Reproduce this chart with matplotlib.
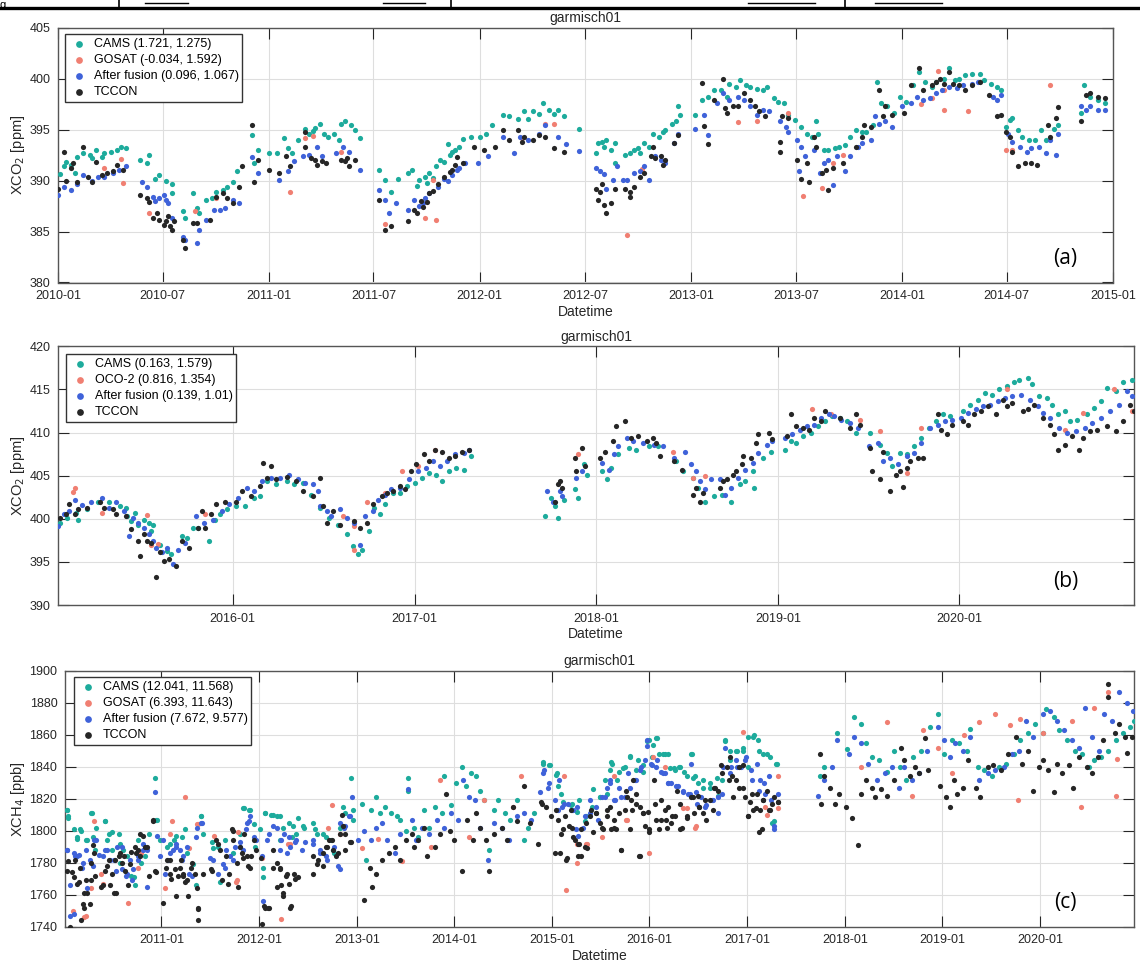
import numpy as np
import matplotlib as mpl
mpl.use('Agg')
import matplotlib.pyplot as plt
import matplotlib.dates as mdates
from matplotlib.lines import Line2D
from datetime import datetime, timedelta

mpl.rcParams['font.family'] = ['Liberation Sans', 'DejaVu Sans']

# ---------- data: (decimal year, value) ----------
# (a) XCO2 2010-2014, GOSAT
a_cams = [(2010.01, 390.6), (2010.03, 391.4), (2010.04, 391.8), (2010.06, 391.5), (2010.08, 390.7), (2010.09, 392.3),
          (2010.12, 392.7), (2010.15, 392.5), (2010.16, 392.2), (2010.18, 393.0), (2010.21, 392.3), (2010.22, 392.7),
          (2010.25, 392.8), (2010.28, 393.0), (2010.30, 393.3), (2010.32, 393.2),
          (2010.39, 392.0), (2010.42, 391.7), (2010.43, 392.5), (2010.46, 390.2), (2010.48, 390.5), (2010.51, 390.0),
          (2010.54, 389.7), (2010.54, 388.8), (2010.59, 387.0), (2010.60, 386.3), (2010.64, 388.8), (2010.66, 387.3),
          (2010.67, 386.8), (2010.70, 388.1), (2010.73, 388.3), (2010.75, 388.9), (2010.78, 389.1), (2010.80, 389.4),
          (2010.83, 389.9), (2010.85, 390.9),
          (2010.92, 394.5), (2010.93, 391.7), (2010.95, 393.0), (2011.00, 392.7), (2011.04, 392.7), (2011.07, 394.2),
          (2011.09, 393.2), (2011.11, 392.7), (2011.14, 394.0), (2011.17, 395.1), (2011.19, 394.6), (2011.21, 394.9),
          (2011.22, 395.2), (2011.24, 395.6), (2011.26, 394.6), (2011.28, 394.3), (2011.31, 394.6), (2011.33, 394.0),
          (2011.34, 395.6), (2011.36, 395.8), (2011.39, 395.5), (2011.41, 395.0), (2011.43, 394.2),
          (2011.52, 391.0), (2011.55, 390.1), (2011.58, 388.9), (2011.61, 390.2), (2011.66, 390.7), (2011.68, 391.0),
          (2011.70, 389.5), (2011.71, 390.1), (2011.74, 390.4), (2011.75, 389.8), (2011.76, 390.7), (2011.78, 390.3),
          (2011.79, 391.4), (2011.81, 392.0), (2011.83, 391.8), (2011.85, 393.6), (2011.86, 392.5), (2011.87, 392.8),
          (2011.88, 393.0), (2011.90, 393.3), (2011.92, 394.1), (2011.96, 394.3), (2012.00, 394.3), (2012.03, 394.6),
          (2012.06, 395.5), (2012.11, 396.4), (2012.14, 396.3), (2012.18, 396.0), (2012.21, 396.8), (2012.23, 396.0),
          (2012.25, 396.8), (2012.28, 396.5), (2012.30, 397.6), (2012.33, 396.9), (2012.35, 396.5), (2012.37, 396.9),
          (2012.40, 396.3), (2012.47, 395.1),
          (2012.55, 392.7), (2012.56, 393.7), (2012.58, 393.8), (2012.59, 393.3), (2012.60, 394.0), (2012.62, 393.0),
          (2012.64, 393.7), (2012.64, 391.7), (2012.69, 392.5), (2012.71, 392.7), (2012.73, 393.0), (2012.75, 393.2),
          (2012.76, 392.7), (2012.78, 393.7), (2012.80, 393.3), (2012.82, 394.6), (2012.85, 394.3), (2012.87, 394.8),
          (2012.88, 395.0), (2012.91, 395.6), (2012.93, 395.8), (2012.94, 397.3), (2012.95, 396.4),
          (2013.02, 396.4), (2013.05, 397.9), (2013.08, 398.2), (2013.11, 398.9), (2013.14, 398.9), (2013.17, 398.2),
          (2013.18, 399.5), (2013.21, 399.2), (2013.23, 399.9), (2013.26, 399.4), (2013.28, 399.2), (2013.31, 399.0),
          (2013.34, 398.9), (2013.36, 399.2), (2013.39, 398.1), (2013.41, 397.7), (2013.44, 397.6),
          (2013.46, 396.4), (2013.49, 395.9), (2013.52, 395.3), (2013.55, 394.6), (2013.57, 394.3), (2013.59, 395.8),
          (2013.60, 394.6), (2013.63, 393.0), (2013.65, 393.0), (2013.68, 393.2), (2013.70, 393.3), (2013.73, 393.5),
          (2013.75, 394.3), (2013.78, 395.0), (2013.81, 394.8), (2013.83, 394.8), (2013.86, 395.5), (2013.88, 399.7),
          (2013.90, 397.6), (2013.93, 397.3), (2013.96, 396.6),
          (2013.99, 398.2), (2014.02, 397.7), (2014.05, 399.4), (2014.08, 400.7), (2014.11, 399.7), (2014.14, 399.2),
          (2014.16, 399.7), (2014.20, 400.0), (2014.22, 401.0), (2014.25, 399.9), (2014.27, 400.0), (2014.30, 400.4),
          (2014.33, 400.5), (2014.37, 400.5), (2014.39, 399.9), (2014.42, 399.5), (2014.45, 399.2), (2014.47, 398.9),
          (2014.49, 395.3), (2014.51, 395.9), (2014.52, 396.1), (2014.55, 395.0), (2014.57, 394.3), (2014.60, 394.0),
          (2014.63, 394.0), (2014.66, 395.0), (2014.68, 394.0), (2014.72, 395.1), (2014.74, 395.5),
          (2014.85, 396.6), (2014.86, 399.4), (2014.89, 398.2), (2014.93, 397.9), (2014.96, 397.6)]
a_sat = [(2010.22, 391.2), (2010.30, 392.1), (2010.31, 389.8), (2010.43, 386.8), (2010.65, 387.0), (2010.75, 388.3),
         (2011.10, 388.9), (2011.17, 394.2), (2011.21, 394.4), (2011.34, 392.8), (2011.55, 385.7), (2011.74, 386.3),
         (2011.78, 390.1), (2011.79, 386.1), (2012.20, 394.2), (2012.31, 395.6), (2012.35, 395.6), (2012.70, 384.7),
         (2012.77, 391.1), (2013.22, 395.7), (2013.31, 395.8), (2013.46, 396.6), (2013.53, 388.5), (2013.62, 389.3),
         (2013.67, 391.7), (2013.72, 392.5), (2014.09, 397.5), (2014.14, 398.1), (2014.17, 400.8), (2014.20, 396.9),
         (2014.20, 398.9), (2014.31, 396.8), (2014.49, 393.0), (2014.52, 393.0), (2014.70, 399.4)]
a_fusion = [(2010.00, 388.6), (2010.03, 389.4), (2010.06, 389.1), (2010.09, 389.7), (2010.12, 390.5), (2010.16, 390.0),
            (2010.19, 390.4), (2010.22, 390.4), (2010.26, 390.7), (2010.29, 391.0), (2010.32, 391.4),
            (2010.40, 389.9), (2010.42, 389.4), (2010.45, 388.4), (2010.46, 388.0), (2010.48, 388.3), (2010.50, 388.6),
            (2010.51, 388.1), (2010.52, 387.8), (2010.54, 386.3), (2010.59, 384.5), (2010.60, 384.2), (2010.66, 383.9),
            (2010.67, 385.2), (2010.70, 386.1), (2010.74, 387.1), (2010.77, 387.1), (2010.79, 387.3), (2010.83, 388.1),
            (2010.86, 387.8),
            (2010.92, 392.3), (2010.95, 390.7), (2011.05, 390.1), (2011.09, 390.9), (2011.12, 391.9), (2011.16, 392.4),
            (2011.19, 392.5), (2011.23, 393.3), (2011.25, 392.4), (2011.32, 392.7), (2011.35, 393.3), (2011.38, 392.8),
            (2011.43, 391.0),
            (2011.52, 389.1), (2011.55, 388.1), (2011.57, 386.8), (2011.60, 387.8), (2011.66, 387.1), (2011.69, 388.1),
            (2011.71, 387.5), (2011.73, 387.8), (2011.74, 388.3), (2011.76, 388.8), (2011.80, 389.4), (2011.83, 390.2),
            (2011.85, 390.0), (2011.87, 390.5), (2011.89, 391.0), (2011.90, 391.2), (2011.93, 391.7), (2011.99, 391.7),
            (2012.04, 392.4), (2012.11, 394.3), (2012.16, 392.7), (2012.19, 394.3), (2012.23, 394.0), (2012.28, 394.6),
            (2012.31, 395.5), (2012.37, 394.3), (2012.41, 393.6), (2012.47, 392.9),
            (2012.55, 391.2), (2012.57, 390.9), (2012.59, 390.6), (2012.60, 389.2), (2012.63, 390.1), (2012.65, 391.4),
            (2012.68, 390.1), (2012.70, 390.1), (2012.73, 390.7), (2012.76, 390.9), (2012.78, 391.4), (2012.80, 390.1),
            (2012.83, 392.4), (2012.86, 392.0), (2012.88, 391.7), (2012.92, 393.7), (2012.94, 394.6),
            (2013.02, 395.1), (2013.06, 396.4), (2013.08, 394.5), (2013.12, 397.6), (2013.15, 398.6), (2013.18, 397.9),
            (2013.22, 398.2), (2013.25, 397.9), (2013.28, 397.3), (2013.31, 396.4), (2013.34, 396.9), (2013.37, 396.8),
            (2013.42, 395.8), (2013.45, 395.3),
            (2013.46, 394.8), (2013.50, 394.0), (2013.51, 390.9), (2013.52, 393.3), (2013.54, 392.4), (2013.58, 393.0),
            (2013.61, 390.7), (2013.63, 391.7), (2013.65, 392.0), (2013.67, 389.6), (2013.69, 392.4), (2013.73, 390.9),
            (2013.75, 392.4), (2013.79, 393.3), (2013.81, 393.7), (2013.85, 394.0), (2013.87, 396.3), (2013.89, 395.6),
            (2013.92, 395.8), (2013.95, 395.3),
            (2014.00, 397.3), (2014.04, 397.6), (2014.07, 398.2), (2014.10, 397.9), (2014.13, 398.1), (2014.16, 398.6),
            (2014.19, 398.9), (2014.22, 399.2), (2014.26, 399.1), (2014.29, 399.4), (2014.33, 399.5), (2014.36, 399.7),
            (2014.43, 398.2), (2014.45, 397.9), (2014.47, 398.4),
            (2014.50, 394.6), (2014.52, 393.8), (2014.56, 393.3), (2014.59, 392.8), (2014.61, 393.2), (2014.65, 393.3),
            (2014.68, 392.7), (2014.70, 394.0), (2014.73, 392.5), (2014.74, 394.6),
            (2014.85, 397.3), (2014.87, 396.9), (2014.89, 397.3), (2014.93, 396.9), (2014.96, 396.9)]
a_tccon = [(2010.00, 389.2), (2010.03, 392.8), (2010.04, 390.0), (2010.06, 391.2), (2010.07, 391.7), (2010.09, 389.9),
           (2010.12, 393.3), (2010.14, 390.4), (2010.16, 389.9), (2010.18, 391.8), (2010.21, 390.5), (2010.23, 390.7),
           (2010.26, 390.9), (2010.28, 391.5), (2010.31, 391.0),
           (2010.39, 388.6), (2010.42, 388.3), (2010.43, 387.9), (2010.45, 386.3), (2010.47, 386.8), (2010.48, 386.1),
           (2010.50, 385.6), (2010.51, 386.0), (2010.52, 386.5), (2010.53, 385.5), (2010.54, 385.2), (2010.55, 386.0),
           (2010.59, 384.2), (2010.60, 383.4), (2010.64, 385.8), (2010.66, 385.8), (2010.72, 386.1), (2010.75, 388.4),
           (2010.78, 388.8), (2010.80, 388.3), (2010.83, 387.8), (2010.86, 389.4), (2010.87, 391.4),
           (2010.92, 395.5), (2010.93, 389.9), (2010.95, 392.0), (2011.00, 391.0), (2011.05, 390.7), (2011.08, 392.4),
           (2011.10, 391.4), (2011.17, 394.8), (2011.17, 393.3), (2011.20, 392.2), (2011.22, 392.0), (2011.23, 391.5),
           (2011.25, 391.9), (2011.27, 391.7), (2011.34, 392.0), (2011.36, 391.9), (2011.37, 392.2), (2011.38, 391.4),
           (2011.41, 392.0),
           (2011.52, 388.1), (2011.55, 385.2), (2011.58, 385.5), (2011.66, 386.0), (2011.69, 387.1), (2011.70, 386.8),
           (2011.72, 388.0), (2011.73, 387.4), (2011.75, 387.9), (2011.76, 388.8), (2011.78, 389.0), (2011.80, 389.7),
           (2011.83, 390.4), (2011.86, 390.8), (2011.87, 391.0), (2011.88, 391.5), (2011.89, 392.3), (2011.92, 391.7),
           (2011.97, 393.3), (2012.02, 393.0), (2012.07, 393.3), (2012.11, 395.0), (2012.14, 394.0), (2012.18, 395.0),
           (2012.20, 393.8), (2012.21, 394.3), (2012.25, 394.0), (2012.28, 394.5), (2012.31, 394.3), (2012.35, 393.2),
           (2012.40, 392.8),
           (2012.55, 389.2), (2012.56, 388.1), (2012.57, 388.9), (2012.58, 389.7), (2012.59, 387.6), (2012.60, 386.8),
           (2012.62, 387.8), (2012.64, 389.2), (2012.69, 389.2), (2012.71, 388.4), (2012.71, 388.9), (2012.73, 389.4),
           (2012.76, 390.4), (2012.78, 390.7), (2012.81, 392.4), (2012.82, 393.3), (2012.83, 392.2), (2012.86, 392.4),
           (2012.87, 391.5), (2012.88, 392.0), (2012.92, 393.7), (2012.94, 394.5),
           (2013.05, 399.6), (2013.06, 395.4), (2013.08, 393.6), (2013.11, 397.9), (2013.15, 400.0), (2013.16, 397.1),
           (2013.17, 396.6), (2013.20, 397.3), (2013.22, 397.3), (2013.25, 398.6), (2013.28, 397.9), (2013.30, 397.3),
           (2013.32, 396.8), (2013.35, 396.3), (2013.42, 392.8), (2013.42, 393.8), (2013.43, 396.3),
           (2013.46, 396.1), (2013.50, 392.0), (2013.52, 390.2), (2013.55, 391.7), (2013.56, 389.9), (2013.58, 394.3),
           (2013.59, 393.3), (2013.62, 390.7), (2013.64, 391.0), (2013.65, 389.1), (2013.67, 391.2), (2013.72, 391.7),
           (2013.78, 393.3), (2013.81, 394.3), (2013.82, 395.5), (2013.85, 395.3), (2013.89, 398.9), (2013.91, 396.3),
           (2013.92, 397.3), (2013.95, 396.4),
           (2014.01, 396.6), (2014.04, 399.4), (2014.08, 401.0), (2014.10, 398.9), (2014.14, 399.4), (2014.16, 399.7),
           (2014.18, 400.0), (2014.20, 399.5), (2014.22, 400.7), (2014.24, 399.5), (2014.27, 399.4), (2014.30, 398.9),
           (2014.33, 399.4), (2014.37, 399.7), (2014.41, 398.4), (2014.45, 396.3), (2014.47, 396.4),
           (2014.49, 394.8), (2014.51, 394.3), (2014.52, 392.8), (2014.55, 391.4), (2014.58, 391.7), (2014.61, 391.7),
           (2014.64, 391.5), (2014.69, 395.5), (2014.70, 394.3), (2014.73, 396.1), (2014.74, 397.2),
           (2014.85, 395.8), (2014.87, 398.4), (2014.89, 398.6), (2014.93, 398.2), (2014.96, 398.1)]

# (b) XCO2 2015-2020, OCO-2
b_cams = [(2015.05, 399.5), (2015.09, 400.1), (2015.14, 400.7), (2015.15, 399.9), (2015.20, 401.1), (2015.26, 401.9),
          (2015.32, 401.9), (2015.38, 401.5), (2015.41, 401.3), (2015.42, 400.3), (2015.44, 399.7), (2015.46, 400.7),
          (2015.48, 399.3), (2015.51, 399.9), (2015.54, 399.5), (2015.55, 398.6), (2015.56, 399.3), (2015.60, 397.0),
          (2015.64, 396.3), (2015.66, 395.9), (2015.72, 398.0), (2015.75, 397.8), (2015.78, 398.9), (2015.81, 398.9),
          (2015.87, 397.4), (2015.90, 399.9), (2015.93, 400.5), (2015.97, 401.1),
          (2016.02, 401.5), (2016.07, 401.5), (2016.12, 402.4), (2016.15, 402.6), (2016.19, 404.4), (2016.24, 404.0),
          (2016.30, 404.4), (2016.34, 404.0), (2016.39, 404.2), (2016.43, 402.8), (2016.48, 401.3), (2016.53, 400.1),
          (2016.58, 399.3), (2016.63, 398.2), (2016.66, 396.8), (2016.69, 395.9), (2016.71, 396.4), (2016.75, 398.6),
          (2016.78, 401.3), (2016.81, 400.5), (2016.84, 401.7), (2016.88, 403.0), (2016.92, 403.0), (2016.96, 403.8),
          (2017.00, 404.2), (2017.04, 404.7), (2017.08, 405.3), (2017.12, 405.1), (2017.15, 404.4), (2017.19, 405.5),
          (2017.23, 405.9), (2017.27, 405.7), (2017.31, 407.3),
          (2017.72, 400.3), (2017.75, 402.4), (2017.77, 401.5), (2017.79, 400.1), (2017.82, 402.2), (2017.88, 403.4),
          (2017.90, 402.4), (2017.93, 406.3), (2017.95, 405.1), (2018.03, 405.5), (2018.06, 404.6), (2018.08, 405.9),
          (2018.12, 407.5), (2018.18, 408.2), (2018.22, 408.0), (2018.29, 408.4), (2018.34, 408.4),
          (2018.44, 406.7), (2018.48, 405.5), (2018.53, 404.7), (2018.56, 403.6), (2018.60, 402.0), (2018.65, 402.6),
          (2018.69, 402.8), (2018.74, 401.9), (2018.79, 404.0), (2018.82, 404.4), (2018.86, 405.5), (2018.87, 403.6),
          (2018.92, 407.1), (2018.96, 407.8),
          (2019.04, 408.0), (2019.07, 409.0), (2019.10, 408.8), (2019.14, 409.6), (2019.18, 410.0), (2019.22, 410.7),
          (2019.26, 411.3), (2019.30, 411.9), (2019.34, 411.7), (2019.38, 411.3), (2019.43, 410.0),
          (2019.51, 410.0), (2019.56, 408.6), (2019.60, 407.6), (2019.63, 406.1), (2019.67, 407.6), (2019.71, 407.5),
          (2019.75, 408.4), (2019.79, 409.4), (2019.83, 410.5), (2019.87, 411.3), (2019.91, 412.1), (2019.95, 411.9),
          (2020.02, 412.5), (2020.06, 413.2), (2020.10, 413.8), (2020.14, 414.6), (2020.18, 414.4), (2020.22, 415.0),
          (2020.26, 415.4), (2020.30, 415.9), (2020.33, 416.1), (2020.38, 416.3), (2020.40, 415.6), (2020.44, 414.2),
          (2020.48, 414.0), (2020.51, 413.2), (2020.54, 412.1), (2020.58, 412.5), (2020.61, 411.3), (2020.65, 411.5),
          (2020.70, 412.1), (2020.74, 412.9), (2020.78, 413.6), (2020.81, 415.2), (2020.86, 414.8), (2020.90, 415.9),
          (2020.95, 416.1)]
b_sat = [(2015.12, 403.1), (2015.13, 403.6), (2015.28, 400.7), (2015.53, 400.4), (2015.55, 396.9), (2015.59, 397.1),
         (2015.85, 400.5), (2016.61, 400.3), (2016.67, 399.2), (2016.67, 396.4), (2016.74, 401.9), (2016.84, 403.0),
         (2016.93, 405.5), (2017.02, 406.1), (2017.11, 408.0), (2017.90, 407.5), (2018.42, 407.7), (2018.53, 404.7),
         (2018.60, 405.0), (2019.19, 412.7), (2019.29, 412.2), (2019.45, 411.4), (2019.56, 410.2), (2019.71, 405.3),
         (2019.79, 410.5), (2020.26, 415.0), (2020.58, 410.3), (2020.68, 412.3), (2020.85, 415.0), (2020.95, 412.5)]
b_fusion = [(2015.04, 399.2), (2015.07, 400.5), (2015.10, 400.9), (2015.13, 402.2), (2015.17, 401.6), (2015.22, 402.0),
            (2015.28, 402.4), (2015.32, 401.3), (2015.36, 402.0), (2015.40, 400.9), (2015.43, 398.0), (2015.45, 400.1),
            (2015.48, 399.5), (2015.51, 398.9), (2015.54, 398.2), (2015.56, 397.4), (2015.58, 396.6), (2015.61, 396.1),
            (2015.64, 396.6), (2015.67, 394.8), (2015.70, 396.4), (2015.74, 397.2), (2015.80, 400.3), (2015.84, 399.5),
            (2015.89, 399.9), (2015.94, 400.9), (2015.98, 401.7),
            (2016.03, 402.4), (2016.08, 403.6), (2016.12, 403.2), (2016.16, 404.4), (2016.21, 404.7), (2016.26, 404.7),
            (2016.31, 405.1), (2016.36, 404.6), (2016.40, 404.2), (2016.44, 404.0), (2016.47, 403.2), (2016.48, 401.5),
            (2016.52, 400.9), (2016.54, 400.3), (2016.59, 401.1), (2016.63, 400.1), (2016.67, 399.5), (2016.70, 397.0),
            (2016.73, 400.3), (2016.77, 400.9), (2016.80, 402.2), (2016.84, 402.8), (2016.87, 403.4), (2016.92, 403.6),
            (2016.97, 404.6), (2017.02, 405.5), (2017.06, 405.9), (2017.10, 406.7), (2017.14, 406.1), (2017.18, 406.7),
            (2017.22, 407.5), (2017.27, 407.6), (2017.30, 408.0),
            (2017.73, 403.2), (2017.76, 402.0), (2017.80, 403.2), (2017.81, 402.6), (2017.89, 404.7), (2017.92, 405.5),
            (2018.03, 406.5), (2018.07, 405.7), (2018.10, 407.5), (2018.12, 408.4), (2018.17, 409.4), (2018.20, 409.0),
            (2018.26, 408.8), (2018.32, 408.6), (2018.37, 408.4),
            (2018.43, 407.1), (2018.49, 407.8), (2018.52, 406.3), (2018.55, 405.5), (2018.57, 404.4), (2018.60, 403.4),
            (2018.63, 404.6), (2018.68, 404.6), (2018.71, 402.8), (2018.74, 403.6), (2018.78, 404.7), (2018.82, 405.7),
            (2018.86, 406.5), (2018.89, 407.6), (2018.94, 408.6), (2018.97, 409.0),
            (2019.04, 409.4), (2019.08, 409.8), (2019.12, 410.3), (2019.16, 410.7), (2019.20, 410.9), (2019.24, 411.7),
            (2019.28, 412.1), (2019.31, 411.9), (2019.35, 411.5), (2019.40, 411.1), (2019.44, 410.5),
            (2019.50, 408.4), (2019.55, 408.8), (2019.58, 406.7), (2019.62, 407.1), (2019.66, 406.3), (2019.71, 407.3),
            (2019.75, 407.6), (2019.79, 408.8), (2019.84, 410.5), (2019.88, 410.9), (2019.92, 411.3), (2019.96, 411.5),
            (2020.01, 411.7), (2020.05, 412.3), (2020.09, 412.7), (2020.13, 413.1), (2020.17, 413.2), (2020.21, 413.6),
            (2020.25, 414.0), (2020.29, 414.2), (2020.34, 414.4), (2020.39, 413.8), (2020.43, 413.1), (2020.46, 412.3),
            (2020.50, 411.7), (2020.55, 410.5), (2020.59, 410.0), (2020.64, 410.2), (2020.69, 410.5), (2020.73, 411.1),
            (2020.78, 411.7), (2020.83, 412.5), (2020.88, 413.2), (2020.92, 414.8), (2020.95, 414.2)]
b_tccon = [(2015.05, 400.1), (2015.08, 400.5), (2015.10, 401.7), (2015.13, 400.5), (2015.15, 401.1), (2015.20, 401.3),
           (2015.27, 402.0), (2015.29, 401.3), (2015.34, 401.1), (2015.36, 400.5), (2015.41, 400.3), (2015.44, 398.8),
           (2015.48, 397.4), (2015.49, 395.7), (2015.51, 398.2), (2015.53, 397.4), (2015.55, 397.2), (2015.58, 393.3),
           (2015.60, 396.1), (2015.62, 395.1), (2015.65, 395.3), (2015.69, 394.5), (2015.72, 397.4), (2015.76, 396.6),
           (2015.81, 398.9), (2015.83, 400.9), (2015.85, 398.9), (2015.88, 400.5), (2015.91, 401.7), (2015.96, 401.9),
           (2016.02, 401.9), (2016.05, 403.2), (2016.10, 402.6), (2016.15, 403.8), (2016.17, 406.5), (2016.19, 404.7),
           (2016.21, 406.1), (2016.24, 404.6), (2016.30, 404.9), (2016.35, 404.4), (2016.39, 403.2), (2016.44, 402.6),
           (2016.48, 404.7), (2016.50, 401.5), (2016.52, 399.5), (2016.55, 400.9), (2016.59, 399.3), (2016.67, 399.7),
           (2016.70, 398.9), (2016.74, 399.5), (2016.77, 401.7), (2016.82, 402.6), (2016.85, 403.0), (2016.88, 403.2),
           (2016.92, 403.8), (2016.95, 403.4), (2016.98, 405.5), (2017.01, 406.3), (2017.05, 407.5), (2017.08, 406.7),
           (2017.11, 408.0), (2017.15, 407.8), (2017.19, 407.1), (2017.22, 407.3), (2017.26, 407.8), (2017.30, 408.0),
           (2017.77, 402.0), (2017.79, 404.0), (2017.80, 404.4), (2017.81, 403.6), (2017.88, 407.1), (2017.89, 405.5),
           (2017.92, 408.2), (2017.94, 406.1), (2018.02, 407.1), (2018.05, 407.8), (2018.09, 409.0), (2018.11, 410.7),
           (2018.16, 411.3), (2018.19, 409.4), (2018.23, 409.6), (2018.28, 409.0), (2018.31, 409.4), (2018.33, 408.8),
           (2018.35, 407.3),
           (2018.43, 406.7), (2018.47, 405.7), (2018.53, 402.8), (2018.55, 403.6), (2018.57, 402.0), (2018.59, 403.0),
           (2018.68, 403.6), (2018.70, 404.4), (2018.72, 404.6), (2018.75, 405.1), (2018.77, 405.5), (2018.80, 406.3),
           (2018.81, 407.3), (2018.85, 407.1), (2018.88, 408.8), (2018.89, 409.8), (2018.95, 410.0), (2018.97, 409.2),
           (2019.05, 409.6), (2019.07, 412.1), (2019.10, 410.7), (2019.14, 410.5), (2019.17, 410.3), (2019.20, 411.7),
           (2019.24, 411.3), (2019.26, 412.5), (2019.34, 411.7), (2019.40, 410.5), (2019.43, 412.1), (2019.45, 410.9),
           (2019.51, 408.2), (2019.52, 405.5), (2019.56, 404.6), (2019.58, 407.8), (2019.62, 403.2), (2019.65, 405.1),
           (2019.67, 405.5), (2019.69, 403.7), (2019.71, 405.9), (2019.73, 406.7), (2019.77, 407.1), (2019.80, 407.1),
           (2019.88, 412.1), (2019.90, 410.3), (2019.93, 409.8), (2019.96, 410.9),
           (2020.02, 411.3), (2020.05, 410.9), (2020.08, 412.1), (2020.12, 412.5), (2020.16, 413.1), (2020.20, 412.1),
           (2020.24, 413.8), (2020.26, 413.1), (2020.29, 413.4), (2020.35, 412.5), (2020.38, 412.7), (2020.41, 413.2),
           (2020.46, 411.7), (2020.50, 410.9), (2020.52, 409.8), (2020.54, 408.0), (2020.58, 408.6), (2020.62, 409.6),
           (2020.66, 408.0), (2020.68, 409.4), (2020.72, 410.2), (2020.76, 410.3), (2020.81, 410.7), (2020.86, 410.2),
           (2020.90, 411.3), (2020.94, 413.2), (2020.96, 412.5)]

# (c) XCH4 2010-2020, GOSAT
c_cams = [(2010.03, 1813), (2010.04, 1809), (2010.13, 1796), (2010.17, 1800), (2010.24, 1794), (2010.29, 1811),
          (2010.33, 1802), (2010.42, 1806), (2010.46, 1798), (2010.49, 1799), (2010.57, 1792), (2010.65, 1784),
          (2010.72, 1771), (2010.76, 1794), (2010.83, 1784), (2010.93, 1833), (2010.94, 1807), (2010.98, 1794),
          (2011.06, 1790), (2011.13, 1794), (2011.21, 1796), (2011.26, 1786), (2011.35, 1766), (2011.41, 1809),
          (2011.43, 1798), (2011.52, 1793), (2011.58, 1790), (2011.65, 1794), (2011.73, 1786), (2011.80, 1798),
          (2011.84, 1814), (2011.91, 1813), (2011.95, 1804), (2012.01, 1801), (2012.04, 1771), (2012.06, 1811),
          (2012.12, 1810), (2012.18, 1809), (2012.21, 1794), (2012.25, 1802), (2012.31, 1805), (2012.34, 1796),
          (2012.40, 1808), (2012.46, 1802), (2012.55, 1805), (2012.59, 1798), (2012.66, 1798), (2012.74, 1794),
          (2012.77, 1786), (2012.83, 1802), (2012.88, 1811), (2012.94, 1833), (2012.96, 1813), (2013.05, 1817),
          (2013.09, 1782), (2013.15, 1813), (2013.20, 1821), (2013.24, 1811), (2013.29, 1815), (2013.35, 1811),
          (2013.41, 1809), (2013.44, 1807), (2013.50, 1800), (2013.52, 1833), (2013.52, 1825), (2013.59, 1802),
          (2013.63, 1796), (2013.69, 1813), (2013.74, 1802), (2013.80, 1815), (2013.87, 1811), (2013.89, 1834),
          (2013.96, 1816), (2014.02, 1830), (2014.08, 1840), (2014.12, 1828), (2014.17, 1836), (2014.22, 1834),
          (2014.26, 1825), (2014.30, 1819), (2014.35, 1788), (2014.41, 1813), (2014.45, 1819), (2014.52, 1811),
          (2014.57, 1807), (2014.64, 1819), (2014.71, 1794), (2014.75, 1802), (2014.82, 1811), (2014.91, 1843),
          (2014.97, 1841), (2015.05, 1836), (2015.09, 1823),
          (2015.21, 1817), (2015.26, 1812), (2015.34, 1806), (2015.41, 1815), (2015.49, 1821), (2015.56, 1823),
          (2015.62, 1842), (2015.67, 1832), (2015.73, 1839), (2015.80, 1846), (2015.86, 1838), (2015.93, 1837),
          (2015.99, 1857), (2016.03, 1846), (2016.08, 1858), (2016.14, 1848), (2016.19, 1848), (2016.25, 1839),
          (2016.31, 1840), (2016.38, 1834), (2016.44, 1848), (2016.47, 1834), (2016.55, 1832), (2016.62, 1827),
          (2016.70, 1822), (2016.77, 1857), (2016.83, 1844), (2016.90, 1850), (2016.96, 1850), (2017.01, 1840),
          (2017.07, 1860), (2017.12, 1850), (2017.20, 1848), (2017.25, 1805), (2017.29, 1842),
          (2017.74, 1834), (2017.79, 1840), (2017.92, 1861), (2018.02, 1851), (2018.09, 1871), (2018.17, 1867),
          (2018.22, 1855), (2018.28, 1846), (2018.35, 1844), (2018.43, 1837), (2018.50, 1850), (2018.57, 1840),
          (2018.63, 1832), (2018.70, 1846), (2018.78, 1850), (2018.87, 1865), (2018.95, 1873), (2019.02, 1848),
          (2019.10, 1857), (2019.17, 1855), (2019.25, 1850), (2019.28, 1864), (2019.36, 1840), (2019.43, 1838),
          (2019.51, 1834), (2019.58, 1840), (2019.65, 1842), (2019.73, 1848), (2019.80, 1857), (2019.88, 1861),
          (2019.95, 1867), (2020.03, 1861), (2020.06, 1876), (2020.14, 1871), (2020.20, 1863), (2020.28, 1857),
          (2020.36, 1850), (2020.43, 1848), (2020.50, 1840), (2020.55, 1844), (2020.63, 1846), (2020.70, 1850),
          (2020.78, 1857), (2020.85, 1861), (2020.92, 1865), (2020.96, 1869),
          # denser readings 2010-2012 and 2015-2017
          (2010.03, 1813), (2010.04, 1808), (2010.10, 1801), (2010.13, 1795), (2010.16, 1801), (2010.23, 1794),
          (2010.28, 1811), (2010.30, 1796), (2010.32, 1788), (2010.42, 1806), (2010.44, 1794), (2010.49, 1788),
          (2010.56, 1798), (2010.57, 1780), (2010.61, 1788), (2010.69, 1772), (2010.73, 1766), (2010.79, 1780),
          (2010.87, 1798), (2010.95, 1807), (2011.09, 1792), (2011.15, 1797), (2011.24, 1801), (2011.32, 1779),
          (2011.41, 1809), (2011.53, 1789), (2011.60, 1768), (2011.85, 1814), (2011.90, 1813), (2011.96, 1790),
          (2012.04, 1777), (2012.06, 1811), (2012.14, 1810), (2012.21, 1809), (2012.35, 1803), (2012.38, 1798),
          (2012.45, 1803), (2012.57, 1801), (2012.69, 1796), (2012.76, 1788), (2012.86, 1815), (2012.96, 1807),
          (2014.91, 1842), (2014.98, 1841), (2015.04, 1835), (2015.06, 1828), (2015.11, 1818), (2015.20, 1816),
          (2015.28, 1819), (2015.35, 1809), (2015.42, 1826), (2015.49, 1821), (2015.54, 1832), (2015.59, 1838),
          (2015.61, 1843), (2015.69, 1837), (2015.75, 1840), (2015.80, 1847), (2015.88, 1844), (2015.93, 1841),
          (2015.97, 1856), (2016.04, 1854), (2016.07, 1858), (2016.10, 1848), (2016.16, 1848), (2016.21, 1839),
          (2016.26, 1838), (2016.30, 1840), (2016.35, 1837), (2016.43, 1848), (2016.45, 1833), (2016.50, 1830),
          (2016.55, 1827), (2016.62, 1830), (2016.69, 1833), (2016.74, 1832), (2016.77, 1856), (2016.82, 1850),
          (2016.89, 1850), (2016.96, 1852), (2017.01, 1859), (2017.06, 1859), (2017.11, 1857), (2017.16, 1848),
          (2017.23, 1846), (2017.27, 1806), (2017.30, 1842)]
c_sat = [(2010.09, 1750), (2010.21, 1746), (2010.28, 1764), (2010.31, 1806), (2010.38, 1773), (2010.66, 1755),
         (2010.79, 1786), (2011.04, 1764), (2011.09, 1798), (2011.11, 1806), (2011.24, 1821), (2011.28, 1789),
         (2011.37, 1804), (2011.54, 1797), (2011.76, 1768), (2011.78, 1799), (2012.03, 1783), (2012.23, 1745),
         (2012.32, 1792), (2012.75, 1816), (2012.83, 1798), (2013.05, 1789), (2013.22, 1795), (2013.46, 1781),
         (2013.76, 1790), (2013.85, 1832), (2014.15, 1796), (2014.30, 1819), (2014.60, 1815), (2014.68, 1834),
         (2015.12, 1834), (2015.14, 1763), (2015.26, 1780), (2015.26, 1792), (2015.36, 1792), (2015.51, 1796),
         (2015.64, 1834), (2015.77, 1807), (2015.99, 1786), (2016.04, 1846), (2016.16, 1840), (2016.34, 1814),
         (2016.47, 1802), (2016.96, 1862), (2017.20, 1810), (2017.31, 1834), (2017.31, 1814), (2018.17, 1840),
         (2018.43, 1868), (2018.69, 1822), (2018.80, 1863), (2018.95, 1852), (2019.10, 1836), (2019.22, 1860),
         (2019.38, 1868), (2019.54, 1873), (2019.69, 1866), (2019.77, 1819), (2019.80, 1870), (2020.03, 1861),
         (2020.33, 1869), (2020.42, 1815), (2020.55, 1877), (2020.70, 1887), (2020.78, 1822), (2020.79, 1845),
         (2010.23, 1747), (2010.40, 1767), (2010.76, 1777), (2011.36, 1804), (2011.77, 1769), (2012.30, 1792),
         (2012.71, 1802), (2015.35, 1792), (2015.76, 1807), (2016.38, 1814), (2016.48, 1803), (2017.18, 1815)]
c_fusion = [(2010.03, 1788), (2010.06, 1747), (2010.10, 1786), (2010.13, 1784), (2010.18, 1777), (2010.24, 1764),
            (2010.31, 1794), (2010.36, 1785), (2010.42, 1788), (2010.47, 1782), (2010.53, 1775), (2010.59, 1790),
            (2010.65, 1773), (2010.70, 1769), (2010.76, 1782), (2010.81, 1792), (2010.85, 1788), (2010.93, 1824),
            (2010.98, 1784), (2011.04, 1773), (2011.09, 1786), (2011.15, 1790), (2011.21, 1782), (2011.28, 1773),
            (2011.35, 1796), (2011.41, 1805), (2011.50, 1783), (2011.58, 1773), (2011.65, 1777), (2011.73, 1782),
            (2011.80, 1790), (2011.88, 1805), (2011.91, 1809), (2011.97, 1794), (2012.03, 1784), (2012.04, 1756),
            (2012.10, 1798), (2012.18, 1802), (2012.23, 1794), (2012.29, 1786), (2012.32, 1790), (2012.38, 1794),
            (2012.44, 1788), (2012.55, 1794), (2012.62, 1786), (2012.70, 1782), (2012.77, 1790), (2012.83, 1776),
            (2012.87, 1802), (2012.92, 1809), (2012.95, 1821), (2013.01, 1794), (2013.07, 1800), (2013.15, 1794),
            (2013.20, 1802), (2013.26, 1805), (2013.31, 1794), (2013.39, 1786), (2013.44, 1798), (2013.52, 1826),
            (2013.56, 1807), (2013.61, 1794), (2013.67, 1802), (2013.74, 1798), (2013.82, 1807), (2013.89, 1802),
            (2013.96, 1811), (2014.04, 1807), (2014.09, 1832), (2014.15, 1821), (2014.21, 1819), (2014.26, 1802),
            (2014.34, 1782), (2014.41, 1805), (2014.49, 1802), (2014.56, 1794), (2014.64, 1809), (2014.71, 1811),
            (2014.79, 1807), (2014.88, 1824), (2014.92, 1838), (2014.97, 1830), (2015.07, 1832), (2015.12, 1817),
            (2015.21, 1813), (2015.26, 1815), (2015.32, 1802), (2015.39, 1819), (2015.47, 1807), (2015.54, 1821),
            (2015.60, 1830), (2015.65, 1819), (2015.71, 1821), (2015.78, 1836), (2015.86, 1832), (2015.91, 1840),
            (2015.97, 1857), (2016.03, 1841), (2016.08, 1844), (2016.14, 1836), (2016.19, 1830), (2016.27, 1828),
            (2016.34, 1825), (2016.42, 1823), (2016.49, 1817), (2016.57, 1815), (2016.64, 1819), (2016.70, 1811),
            (2016.75, 1840), (2016.83, 1836), (2016.90, 1840), (2016.98, 1844), (2017.05, 1832), (2017.12, 1825),
            (2017.18, 1823), (2017.24, 1819), (2017.27, 1801),
            (2017.72, 1822), (2017.79, 1832), (2017.87, 1840), (2017.92, 1857), (2018.04, 1848), (2018.09, 1859),
            (2018.17, 1855), (2018.24, 1842), (2018.33, 1832), (2018.41, 1836), (2018.48, 1840), (2018.56, 1827),
            (2018.61, 1840), (2018.69, 1832), (2018.76, 1836), (2018.84, 1850), (2018.95, 1865), (2019.02, 1857),
            (2019.08, 1846), (2019.13, 1855), (2019.21, 1850), (2019.28, 1859), (2019.38, 1832), (2019.47, 1836),
            (2019.54, 1838), (2019.63, 1840), (2019.71, 1848), (2019.79, 1850), (2019.86, 1869), (2019.93, 1859),
            (2020.03, 1873), (2020.10, 1875), (2020.18, 1869), (2020.25, 1863), (2020.33, 1857), (2020.40, 1852),
            (2020.46, 1877), (2020.53, 1859), (2020.61, 1850), (2020.66, 1873), (2020.74, 1869), (2020.81, 1887),
            (2020.89, 1880), (2020.95, 1875),
            # denser readings 2010-2012 and 2015-2017
            (2010.03, 1788), (2010.06, 1766), (2010.10, 1748), (2010.11, 1784), (2010.15, 1785), (2010.20, 1780),
            (2010.23, 1788), (2010.27, 1782), (2010.30, 1778), (2010.33, 1794), (2010.40, 1784), (2010.44, 1788),
            (2010.51, 1782), (2010.54, 1790), (2010.59, 1776), (2010.64, 1772), (2010.68, 1782), (2010.71, 1776),
            (2010.76, 1784), (2010.81, 1788), (2010.85, 1765), (2010.95, 1797), (2011.02, 1794), (2011.07, 1782),
            (2011.12, 1788), (2011.15, 1792), (2011.19, 1788), (2011.22, 1784), (2011.26, 1790), (2011.31, 1772),
            (2011.36, 1802), (2011.42, 1805), (2011.53, 1782), (2011.63, 1779), (2011.66, 1788), (2011.70, 1784),
            (2011.75, 1790), (2011.80, 1793), (2011.84, 1788), (2011.87, 1801), (2011.90, 1806), (2011.95, 1796),
            (2012.08, 1794), (2012.14, 1803), (2012.21, 1788), (2012.26, 1798), (2012.31, 1796), (2012.37, 1793),
            (2012.47, 1793), (2012.55, 1792), (2012.62, 1788), (2012.69, 1784), (2012.81, 1778), (2012.83, 1805),
            (2012.88, 1803), (2012.93, 1809),
            (2014.91, 1836), (2014.96, 1827), (2015.03, 1819), (2015.06, 1813), (2015.10, 1815), (2015.16, 1817),
            (2015.22, 1813), (2015.25, 1801), (2015.27, 1797), (2015.34, 1809), (2015.39, 1811), (2015.45, 1815),
            (2015.51, 1821), (2015.56, 1827), (2015.59, 1832), (2015.64, 1819), (2015.69, 1827), (2015.75, 1821),
            (2015.80, 1827), (2015.85, 1832), (2015.90, 1838), (2015.95, 1844), (2015.97, 1853), (2016.02, 1842),
            (2016.07, 1840), (2016.12, 1837), (2016.16, 1836), (2016.19, 1830), (2016.22, 1830), (2016.29, 1828),
            (2016.34, 1824), (2016.39, 1823), (2016.43, 1842), (2016.48, 1824), (2016.53, 1821), (2016.58, 1816),
            (2016.65, 1819), (2016.70, 1821), (2016.74, 1823), (2016.77, 1852), (2016.84, 1840), (2016.89, 1844),
            (2016.94, 1840), (2016.99, 1846), (2017.04, 1838), (2017.10, 1842), (2017.13, 1832), (2017.17, 1830),
            (2017.22, 1834), (2017.27, 1803), (2017.31, 1823)]
c_tccon = [(2010.03, 1775), (2010.06, 1740), (2010.10, 1771), (2010.13, 1767), (2010.17, 1744), (2010.21, 1752),
           (2010.24, 1761), (2010.28, 1769), (2010.31, 1786), (2010.38, 1765), (2010.42, 1775), (2010.46, 1782),
           (2010.49, 1773), (2010.53, 1761), (2010.57, 1786), (2010.63, 1775), (2010.68, 1779), (2010.74, 1786),
           (2010.78, 1798), (2010.83, 1790), (2010.91, 1806), (2010.94, 1774), (2011.02, 1755), (2011.06, 1782),
           (2011.09, 1773), (2011.15, 1759), (2011.19, 1777), (2011.22, 1773), (2011.26, 1769), (2011.30, 1777),
           (2011.37, 1751), (2011.37, 1744), (2011.43, 1773), (2011.52, 1775), (2011.58, 1792), (2011.62, 1769),
           (2011.69, 1773), (2011.73, 1800), (2011.78, 1765), (2011.82, 1786), (2011.88, 1784), (2011.91, 1777),
           (2011.95, 1794), (2012.03, 1742), (2012.06, 1752), (2012.10, 1752), (2012.14, 1777), (2012.18, 1765),
           (2012.21, 1777), (2012.25, 1761), (2012.29, 1773), (2012.32, 1752), (2012.36, 1773), (2012.40, 1771),
           (2012.55, 1773), (2012.60, 1782), (2012.66, 1786), (2012.70, 1790), (2012.75, 1794), (2012.81, 1786),
           (2012.85, 1810), (2012.88, 1798), (2012.94, 1793), (2013.07, 1757), (2013.13, 1777), (2013.16, 1765),
           (2013.20, 1773), (2013.26, 1782), (2013.33, 1786), (2013.39, 1790), (2013.44, 1782), (2013.50, 1794),
           (2013.56, 1798), (2013.59, 1790), (2013.63, 1794), (2013.69, 1802), (2013.72, 1784), (2013.80, 1790),
           (2013.85, 1798), (2013.91, 1823), (2013.95, 1800), (2014.00, 1794), (2014.08, 1775), (2014.13, 1807),
           (2014.19, 1794), (2014.22, 1811), (2014.26, 1802), (2014.32, 1794), (2014.35, 1775), (2014.41, 1798),
           (2014.49, 1802), (2014.54, 1794), (2014.60, 1815), (2014.64, 1806), (2014.71, 1828), (2014.77, 1805),
           (2014.86, 1792), (2014.90, 1817), (2014.99, 1809), (2015.03, 1786), (2015.09, 1798), (2015.14, 1782),
           (2015.21, 1802), (2015.24, 1794), (2015.28, 1792), (2015.30, 1784), (2015.36, 1789), (2015.39, 1809),
           (2015.45, 1811), (2015.51, 1802), (2015.56, 1813), (2015.64, 1802), (2015.71, 1788), (2015.77, 1821),
           (2015.82, 1813), (2015.86, 1817), (2015.90, 1784), (2015.93, 1811), (2015.99, 1799), (2016.06, 1817),
           (2016.12, 1807), (2016.18, 1802), (2016.23, 1809), (2016.31, 1801), (2016.38, 1809), (2016.45, 1821),
           (2016.51, 1815), (2016.57, 1819), (2016.66, 1827), (2016.73, 1841), (2016.81, 1832), (2016.85, 1834),
           (2016.92, 1840), (2016.96, 1827), (2017.01, 1809), (2017.05, 1823), (2017.09, 1814), (2017.12, 1799),
           (2017.16, 1819), (2017.22, 1813), (2017.25, 1817), (2017.31, 1818),
           (2017.74, 1848), (2017.76, 1817), (2017.79, 1834), (2017.85, 1827), (2017.90, 1817), (2017.94, 1823),
           (2018.01, 1815), (2018.07, 1808), (2018.13, 1791), (2018.17, 1823), (2018.22, 1832), (2018.28, 1827),
           (2018.31, 1821), (2018.37, 1826), (2018.43, 1822), (2018.50, 1832), (2018.58, 1852), (2018.61, 1844),
           (2018.67, 1834), (2018.72, 1840), (2018.76, 1836), (2018.82, 1858), (2018.85, 1838), (2018.97, 1828),
           (2019.04, 1821), (2019.08, 1815), (2019.12, 1832), (2019.15, 1823), (2019.21, 1827), (2019.26, 1844),
           (2019.34, 1827), (2019.39, 1821), (2019.47, 1840), (2019.52, 1841), (2019.60, 1838), (2019.67, 1848),
           (2019.75, 1859), (2019.82, 1842), (2019.88, 1850), (2019.93, 1825), (2019.99, 1840), (2020.03, 1844),
           (2020.08, 1838), (2020.14, 1824), (2020.18, 1842), (2020.23, 1836), (2020.30, 1841), (2020.34, 1827),
           (2020.40, 1846), (2020.48, 1840), (2020.53, 1836), (2020.59, 1846), (2020.65, 1857), (2020.70, 1892),
           (2020.70, 1884), (2020.77, 1861), (2020.81, 1867), (2020.87, 1859), (2020.89, 1849), (2020.94, 1859),
           # denser readings 2010-2012 and 2015-2017
           (2010.04, 1781), (2010.08, 1774), (2010.11, 1782), (2010.15, 1768), (2010.16, 1777), (2010.20, 1754),
           (2010.21, 1761), (2010.23, 1769), (2010.27, 1754), (2010.28, 1780), (2010.30, 1791), (2010.32, 1772),
           (2010.40, 1766), (2010.44, 1778), (2010.47, 1766), (2010.51, 1761), (2010.52, 1782), (2010.56, 1784),
           (2010.59, 1780), (2010.62, 1784), (2010.66, 1766), (2010.69, 1787), (2010.73, 1790), (2010.76, 1788),
           (2010.78, 1784), (2010.81, 1797), (2010.85, 1790), (2010.87, 1772), (2010.91, 1807), (2010.93, 1775),
           (2011.05, 1777), (2011.09, 1782), (2011.10, 1770), (2011.14, 1776), (2011.17, 1772), (2011.20, 1782),
           (2011.22, 1772), (2011.24, 1768), (2011.27, 1759), (2011.31, 1780), (2011.34, 1773), (2011.36, 1764),
           (2011.37, 1752), (2011.51, 1776), (2011.56, 1794), (2011.60, 1788), (2011.66, 1784), (2011.68, 1767),
           (2011.72, 1801), (2011.73, 1794), (2011.77, 1780), (2011.80, 1790), (2011.84, 1783), (2011.85, 1798),
           (2011.89, 1778), (2011.92, 1784), (2011.97, 1788), (2012.02, 1783), (2012.05, 1753), (2012.09, 1752),
           (2012.14, 1788), (2012.18, 1780), (2012.21, 1776), (2012.23, 1766), (2012.25, 1759), (2012.28, 1772),
           (2012.31, 1767), (2012.33, 1753), (2012.37, 1770), (2012.55, 1784), (2012.59, 1779), (2012.66, 1778),
           (2012.69, 1790), (2012.72, 1794), (2012.76, 1788), (2012.79, 1784), (2012.83, 1798), (2012.86, 1803),
           (2012.88, 1788), (2012.93, 1793),
           (2014.89, 1818), (2014.94, 1815), (2015.04, 1813), (2015.06, 1807), (2015.08, 1786), (2015.11, 1801),
           (2015.13, 1809), (2015.15, 1783), (2015.18, 1803), (2015.20, 1813), (2015.22, 1796), (2015.27, 1792),
           (2015.27, 1784), (2015.30, 1801), (2015.34, 1790), (2015.35, 1805), (2015.40, 1813), (2015.42, 1799),
           (2015.45, 1811), (2015.49, 1805), (2015.52, 1801), (2015.56, 1809), (2015.59, 1815), (2015.61, 1801),
           (2015.64, 1807), (2015.66, 1801), (2015.69, 1811), (2015.71, 1788), (2015.75, 1813), (2015.76, 1825),
           (2015.80, 1801), (2015.81, 1819), (2015.83, 1832), (2015.86, 1823), (2015.89, 1784), (2015.90, 1815),
           (2015.93, 1811), (2015.95, 1803), (2015.98, 1812), (2016.00, 1801), (2016.05, 1832), (2016.07, 1807),
           (2016.10, 1801), (2016.12, 1819), (2016.16, 1813), (2016.17, 1807), (2016.19, 1815), (2016.22, 1805),
           (2016.26, 1809), (2016.28, 1825), (2016.31, 1817), (2016.33, 1802), (2016.38, 1808), (2016.43, 1821),
           (2016.46, 1811), (2016.50, 1822), (2016.51, 1815), (2016.55, 1811), (2016.58, 1807), (2016.62, 1819),
           (2016.65, 1813), (2016.67, 1827), (2016.70, 1825), (2016.74, 1836), (2016.79, 1840), (2016.82, 1846),
           (2016.86, 1821), (2016.89, 1832), (2016.92, 1827), (2016.96, 1841), (2016.98, 1821), (2017.01, 1809),
           (2017.03, 1818), (2017.06, 1813), (2017.10, 1823), (2017.13, 1813), (2017.15, 1801), (2017.16, 1819),
           (2017.20, 1825), (2017.23, 1813), (2017.27, 1821), (2017.31, 1818)]

legend_a = ['CAMS (1.721, 1.275)', 'GOSAT (-0.034, 1.592)', 'After fusion (0.096, 1.067)', 'TCCON']
legend_b = ['CAMS (0.163, 1.579)', 'OCO-2 (0.816, 1.354)', 'After fusion (0.139, 1.01)', 'TCCON']
legend_c = ['CAMS (12.041, 11.568)', 'GOSAT (6.393, 11.643)', 'After fusion (7.672, 9.577)', 'TCCON']

colors = ['#1dab9c', '#f07f72', '#3f62d9', '#262626']
edge = '#262626'


def to_date(y):
    base = datetime(int(y), 1, 1)
    return base + timedelta(days=(y - int(y)) * 365.25)


def unzip(pts):
    t = [to_date(p[0]) for p in pts]
    v = [p[1] for p in pts]
    return t, v


fig = plt.figure(figsize=(11.4, 9.67), dpi=100)
W, H = 1140.0, 967.0

# page fragments visible above the chart
fig.add_artist(Line2D([0, 1], [1 - 7.5 / H, 1 - 7.5 / H], color='black', lw=2.4))
for xp in [119, 451, 845]:
    fig.add_artist(Line2D([xp / W, xp / W], [1, 1 - 7 / H], color='black', lw=1.2))
for x0, x1 in [(145, 188), (383, 425), (748, 815), (875, 942)]:
    fig.add_artist(Line2D([x0 / W, x1 / W], [1 - 2.7 / H, 1 - 2.7 / H], color='black', lw=1.0))
fig.text(0.0, 1 - 0.5 / H, 'g', fontsize=8, va='top', ha='left')

panels = [
    # data, legend, rect(px: left, top, right, bottom), xlim, ylim, yticks, ylabel, tag pos, legend anchor, step
    ([a_cams, a_sat, a_fusion, a_tccon], legend_a, (58, 27.7, 1113, 282.5),
     (datetime(2010, 1, 1), datetime(2015, 1, 1)), (380, 405), np.arange(380, 406, 5),
     r'XCO$_2$ [ppm]', ('(a)', 0.955, 0.096), (0.0066, 0.974), 'half'),
    ([b_cams, b_sat, b_fusion, b_tccon], legend_b, (58, 346.3, 1134, 605),
     (datetime(2015, 1, 15), datetime(2020, 12, 17)), (390, 420), np.arange(390, 421, 5),
     r'XCO$_2$ [ppm]', ('(b)', 0.937, 0.09), (0.0074, 0.969), 'year'),
    ([c_cams, c_sat, c_fusion, c_tccon], legend_c, (65, 671, 1134, 926.7),
     (datetime(2010, 1, 5), datetime(2020, 12, 18)), (1740, 1900), np.arange(1740, 1901, 20),
     r'XCH$_4$ [ppb]', ('(c)', 0.936, 0.093), (0.0084, 0.975), 'year'),
]

for series, labels, (l, t, r, b), xlim, ylim, yt, ylab, tag, anchor, step in panels:
    ax = fig.add_axes([l / W, 1 - b / H, (r - l) / W, (b - t) / H])
    handles = []
    for pts, col, lab in zip(series, colors, labels):
        tt, vv = unzip(pts)
        h = ax.scatter(tt, vv, s=14, color=col, linewidths=0, label=lab, zorder=3)
        handles.append(h)
    ax.set_xlim(*xlim)
    ax.set_ylim(*ylim)
    ax.set_yticks(yt)
    if step == 'half':
        ax.xaxis.set_major_locator(mdates.MonthLocator(bymonth=[1, 7]))
    else:
        ax.xaxis.set_major_locator(mdates.YearLocator())
    ax.xaxis.set_major_formatter(mdates.DateFormatter('%Y-%m'))
    ax.grid(True, color='#dedede', lw=0.8, zorder=0)
    ax.set_axisbelow(True)
    ax.tick_params(direction='in', length=8, width=0.8, top=True, right=True,
                   labelsize=9, colors=edge, pad=5.5)
    for sp in ax.spines.values():
        sp.set_color('#555555')
        sp.set_linewidth(1.0)
    ax.set_title('garmisch01', fontsize=10, color=edge, pad=4)
    ax.set_xlabel('Datetime', fontsize=10, color=edge, labelpad=2)
    ax.set_ylabel(ylab, fontsize=10.5, color=edge, labelpad=2)
    ax.text(tag[1], tag[2], tag[0], transform=ax.transAxes,
            fontsize=15, family=['Open Sans', 'DejaVu Sans'], ha='center', va='center', color='black')
    leg = ax.legend(handles=handles, loc='upper left', bbox_to_anchor=anchor,
                    borderaxespad=0, fontsize=9, markerscale=1.3, handletextpad=0.4,
                    labelspacing=0.32, borderpad=0.3, fancybox=False, framealpha=1,
                    handlelength=1.6)
    leg.get_frame().set_edgecolor('#333333')
    leg.get_frame().set_linewidth(1.0)
    for txt in leg.get_texts():
        txt.set_color('black')

fig.savefig('out.png', dpi=100)
